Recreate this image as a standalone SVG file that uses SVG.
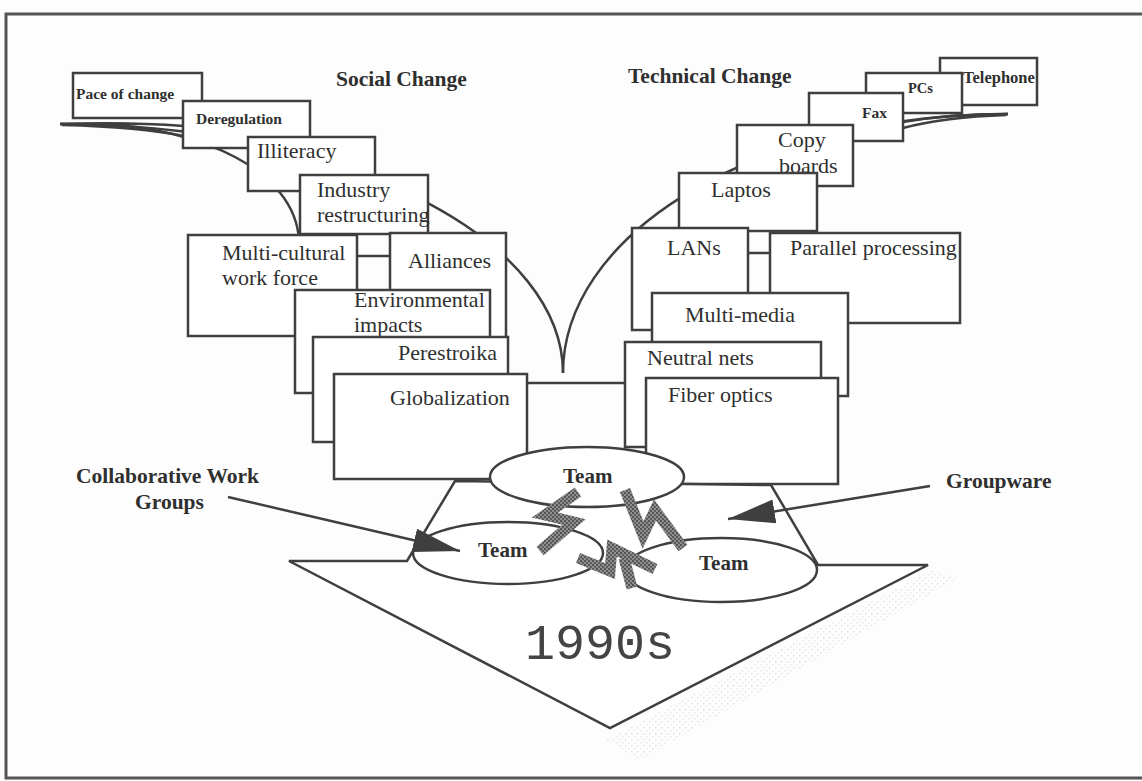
<svg xmlns="http://www.w3.org/2000/svg" width="1142" height="781" viewBox="0 0 1142 781">
<defs>
<style>
.bx{fill:#fff;stroke:#3f3f3f;stroke-width:2.5}
.ln{fill:none;stroke:#3f3f3f;stroke-width:2.5}
.t{font-family:"Liberation Serif","Times New Roman",serif;font-size:22px;fill:#2f2f2f}
.tb{font-family:"Liberation Serif","Times New Roman",serif;font-weight:bold;fill:#2f2f2f}
.sm{font-size:15.5px}
.hd{font-size:21.5px}
.team{fill:#fff;stroke:#3f3f3f;stroke-width:2.5}
.bolt{fill:none;stroke:url(#dither);stroke-width:11;stroke-linejoin:miter;stroke-miterlimit:6}
.mono{font-family:"Liberation Mono","Courier New",monospace;font-size:50px;fill:#444}
</style>
<pattern id="dither" width="4" height="4" patternUnits="userSpaceOnUse">
<rect width="4" height="4" fill="#8e8e8e"/>
<rect width="2" height="2" fill="#555"/>
<rect x="2" y="2" width="2" height="2" fill="#5c5c5c"/>
</pattern>
<pattern id="stipple" width="6" height="6" patternUnits="userSpaceOnUse">
<rect x="1" y="1" width="1.5" height="1.5" fill="#c4c4c4"/>
<rect x="4" y="4" width="1.5" height="1.5" fill="#d2d2d2"/>
</pattern>
<marker id="head" markerUnits="userSpaceOnUse" markerWidth="48" markerHeight="26" refX="47" refY="12" orient="auto">
<path d="M0,0 L47,12 L0,24 Z" fill="#3f3f3f"/>
</marker>
</defs>

<rect width="1142" height="781" fill="#fdfdfd"/>
<!-- page frame -->
<rect x="6" y="14" width="1150" height="764" fill="none" stroke="#555" stroke-width="3"/>

<!-- headers -->
<text class="tb hd" x="336" y="86">Social Change</text>
<text class="tb hd" x="628" y="83">Technical Change</text>

<!-- halftone shadow beside the funnel -->
<polygon points="932,570 958,578 640,760 606,740" fill="url(#stipple)" opacity="0.5"/>

<g id="connectors">
  <!-- left sweep -->
  <path class="ln" d="M60,124 A503,249 0 0 1 563,373"/>
  <path class="ln" d="M100,124 C200,128 295,170 299,240"/>
  <path class="ln" d="M60,124 L130,124" stroke-width="5"/>
  <path class="ln" d="M60,124 Q130,122 184,126"/>
  <path class="ln" d="M62,125 Q140,127 184,136"/>
  <!-- right sweep -->
  <path class="ln" d="M1008,114 A445,259 0 0 0 563,373"/>
  <path class="ln" d="M1008,114 L950,116" stroke-width="4"/>
  <path class="ln" d="M1008,114 Q950,114 903,122"/>
  <path class="ln" d="M1006,115 Q945,117 903,128"/>
  <!-- box links -->
  <line class="ln" x1="357" y1="256" x2="390" y2="256"/>
  <line class="ln" x1="748" y1="253" x2="770" y2="253"/>
  <line class="ln" x1="527" y1="383" x2="625" y2="383"/>
</g>

<!-- social change -->
<g id="pace"><rect class="bx" x="73" y="73" width="129" height="45"/><text class="tb sm" x="76" y="99">Pace of change</text></g>
<g id="deregulation"><rect class="bx" x="183" y="101" width="127" height="47"/><text class="tb sm" x="196" y="124">Deregulation</text></g>
<g id="illiteracy"><rect class="bx" x="248" y="137" width="127" height="54"/><text class="t" x="257" y="158">Illiteracy</text></g>
<g id="industry"><rect class="bx" x="300" y="175" width="128" height="59"/><text class="t" x="317" y="197">Industry</text><text class="t" x="317" y="222">restructuring</text></g>
<g id="multicultural"><rect class="bx" x="188" y="235" width="169" height="101"/><text class="t" x="222" y="260">Multi-cultural</text><text class="t" x="222" y="285">work force</text></g>
<g id="alliances"><rect class="bx" x="390" y="233" width="116" height="112"/><text class="t" x="408" y="268">Alliances</text></g>
<g id="environmental"><rect class="bx" x="295" y="290" width="195" height="103"/><text class="t" x="354" y="307">Environmental</text><text class="t" x="354" y="332">impacts</text></g>
<g id="perestroika"><rect class="bx" x="313" y="337" width="195" height="105"/><text class="t" x="398" y="360">Perestroika</text></g>
<g id="globalization"><rect class="bx" x="334" y="374" width="193" height="105"/><text class="t" x="390" y="405">Globalization</text></g>

<!-- technical change -->
<g id="telephone"><rect class="bx" x="940" y="58" width="97" height="47"/><text class="tb" font-size="16.5" x="963" y="83">Telephone</text></g>
<g id="pcs"><rect class="bx" x="866" y="73" width="96" height="40"/><text class="tb" font-size="14.5" x="908" y="93">PCs</text></g>
<g id="fax"><rect class="bx" x="809" y="93" width="94" height="48"/><text class="tb sm" x="862" y="118">Fax</text></g>
<g id="copyboards"><rect class="bx" x="737" y="125" width="116" height="61"/><text class="t" x="778" y="147">Copy</text><text class="t" x="779" y="173">boards</text></g>
<g id="laptos"><rect class="bx" x="679" y="173" width="138" height="58"/><text class="t" x="711" y="197">Laptos</text></g>
<g id="lans"><rect class="bx" x="632" y="228" width="116" height="102"/><text class="t" x="667" y="255">LANs</text></g>
<g id="parallel"><rect class="bx" x="770" y="233" width="190" height="90"/><text class="t" x="790" y="255">Parallel processing</text></g>
<g id="multimedia"><rect class="bx" x="652" y="293" width="196" height="103"/><text class="t" x="685" y="322">Multi-media</text></g>
<g id="neutralnets"><rect class="bx" x="625" y="342" width="196" height="105"/><text class="t" x="647" y="365">Neutral nets</text></g>
<g id="fiberoptics"><rect class="bx" x="646" y="378" width="192" height="106"/><text class="t" x="668" y="402">Fiber optics</text></g>

<!-- 1990s funnel -->
<g id="funnel">
  <polygon class="bx" points="455,481 771,485 818,565 928,565 610,728 289,561 407,561"/>
  <text class="mono" x="525" y="659">1990s</text>
</g>

<g id="team-top"><ellipse class="team" cx="587" cy="477" rx="97" ry="30"/><text class="tb" font-size="21" x="563" y="483">Team</text></g>
<g id="team-left"><ellipse class="team" cx="508" cy="553" rx="95" ry="31"/><text class="tb" font-size="21" x="478" y="557">Team</text></g>
<g id="team-right"><ellipse class="team" cx="721" cy="570" rx="96" ry="32"/><text class="tb" font-size="21" x="699" y="570">Team</text></g>

<!-- interaction bolts -->
<g id="bolts">
  <polyline class="bolt" points="578,492 545,515 574,522 540,551"/>
  <polyline class="bolt" points="625,490 643,535 655,510 683,548"/>
  <polyline class="bolt" points="578,558 610,571 612,548 655,569"/>
  <line class="bolt" x1="624" y1="558" x2="632" y2="588"/>
</g>

<g id="labels">
  <text class="tb hd" x="76" y="483">Collaborative Work</text>
  <text class="tb hd" x="135" y="509">Groups</text>
  <text class="tb hd" x="946" y="488">Groupware</text>
  <line class="ln" x1="228" y1="497" x2="460" y2="551" marker-end="url(#head)"/>
  <line class="ln" x1="930" y1="486" x2="728" y2="519" marker-end="url(#head)"/>
</g>
</svg>
